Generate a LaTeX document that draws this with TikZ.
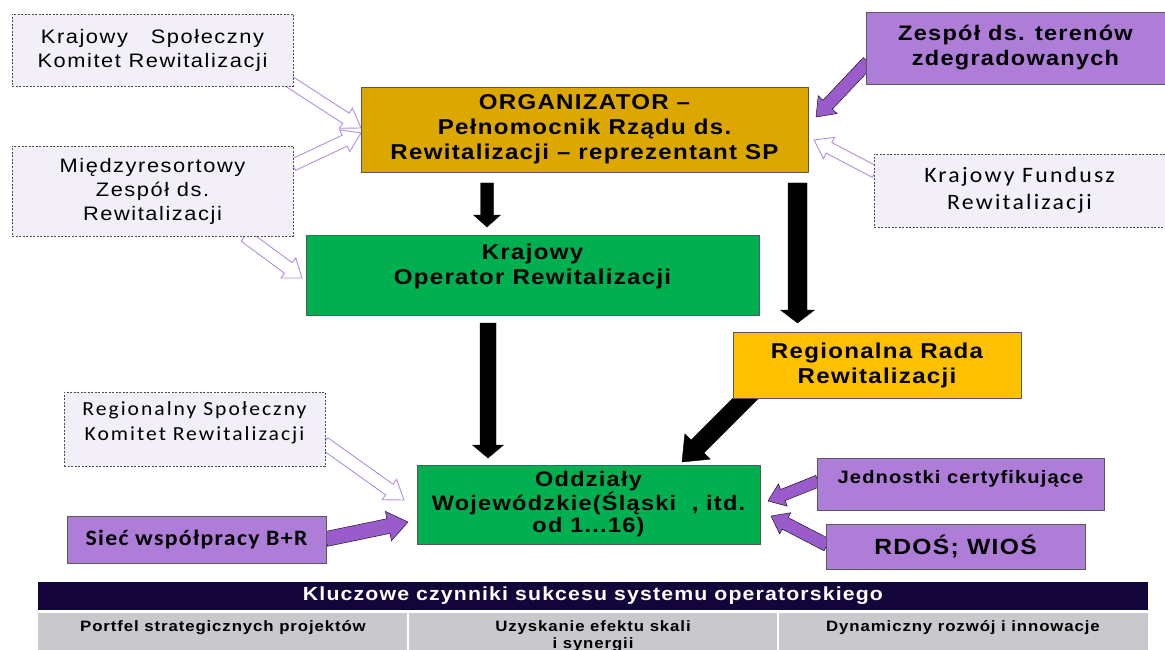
\documentclass[tikz,border=0pt]{standalone}
\usepackage{fontspec}
\setmainfont{Liberation Sans}
\newfontfamily\arl[FakeStretch=1.12,LetterSpace=6]{Liberation Sans}
\newfontfamily\arr[FakeStretch=1.12,LetterSpace=8]{Liberation Sans}
\newfontfamily\cbr[FakeStretch=1.08,LetterSpace=10]{Carlito}
\newfontfamily\cbb[FakeStretch=1.08,LetterSpace=6]{Carlito}
\usetikzlibrary{calc}

\definecolor{orggold}{HTML}{DCA800}
\definecolor{opgreen}{HTML}{00B050}
\definecolor{rryellow}{HTML}{FFC000}
\definecolor{boxpurple}{HTML}{AE7DD8}
\definecolor{arrpurple}{HTML}{9B5CCB}
\definecolor{lilac}{HTML}{B48DE0}
\definecolor{lavender}{HTML}{F3EFF9}
\definecolor{navy}{HTML}{13053A}
\definecolor{cellgray}{HTML}{C9C9CD}

\pgfdeclarelayer{bg}
\pgfsetlayers{bg,main}

\tikzset{
  box/.style={draw=black!65, line width=0.8pt, align=center, inner sep=0pt,
    font=\arl\bfseries\fontsize{21.5}{25}\selectfont},
  dbox/.style={draw=black!70, dash pattern=on 2pt off 1.5pt, line width=0.6pt,
    fill=lavender, align=center, inner sep=0pt, font=\arr\fontsize{19.5}{24}\selectfont},
  cell/.style={anchor=north, align=center, inner sep=0pt,
    font=\arl\bfseries\fontsize{15}{17}\selectfont},
  fat/.style n args={3}{to path={
    ($ (\tikztostart)!#1!90:(\tikztotarget) $)
    -- ($ ($(\tikztotarget)!#3!(\tikztostart)$)!#1!90:(\tikztotarget) $)
    -- ($ ($(\tikztotarget)!#3!(\tikztostart)$)!#2!90:(\tikztotarget) $)
    -- (\tikztotarget)
    -- ($ ($(\tikztotarget)!#3!(\tikztostart)$)!#2!-90:(\tikztotarget) $)
    -- ($ ($(\tikztotarget)!#3!(\tikztostart)$)!#1!-90:(\tikztotarget) $)
    -- ($ (\tikztostart)!#1!-90:(\tikztotarget) $)
    -- cycle}},
  blk/.style={fill=black},
  parr/.style={fill=arrpurple},
  harr/.style={draw=lilac, line width=0.9pt, fill=white}
}

\begin{document}
\begin{tikzpicture}[x=1pt,y=-1pt]
\useasboundingbox (0,0) rectangle (1165,650);

\node[dbox, minimum width=281pt, minimum height=72pt] (kskr) at (152.5,50) {Krajowy\ \ \ Społeczny\\Komitet Rewitalizacji};
\node[dbox, minimum width=281pt, minimum height=90pt] (mzr) at (152.5,191) {Międzyresortowy\\Zespół ds.\\Rewitalizacji};
\node[box, fill=orggold, minimum width=447pt, minimum height=85pt] (org) at (584.5,129.5) {ORGANIZATOR –\\Pełnomocnik Rządu ds.\\Rewitalizacji – reprezentant SP};
\node[box, fill=boxpurple, minimum width=299pt, minimum height=72pt, font=\arl\bfseries\fontsize{21}{25}\selectfont] (zespol) at (1015.5,48) {Zespół ds. terenów\\zdegradowanych};
\node[dbox, minimum width=291pt, minimum height=73pt, font=\cbr\fontsize{22}{27}\selectfont] (kfr) at (1019.5,190.5) {Krajowy Fundusz\\Rewitalizacji};

\node[box, fill=opgreen, minimum width=453pt, minimum height=80pt, text depth=22pt] (kor) at (532.5,275) {Krajowy\\Operator Rewitalizacji};
\node[box, fill=rryellow, minimum width=288pt, minimum height=66pt] (rrr) at (877,365) {Regionalna Rada\\Rewitalizacji};
\node[dbox, minimum width=261pt, minimum height=74pt, text depth=16pt, font=\cbr\fontsize{20}{25}\selectfont] (rskr) at (194.5,429) {Regionalny Społeczny\\Komitet Rewitalizacji};

\node[box, fill=opgreen, minimum width=343pt, minimum height=79pt, font=\arl\bfseries\fontsize{21}{22}\selectfont] (odd) at (588.5,504.5) {Oddziały\\Wojewódzkie(Śląski\ \ , itd.\\od 1...16)};
\node[box, fill=boxpurple, minimum width=259pt, minimum height=47pt, font=\cbb\bfseries\fontsize{22}{26}\selectfont] (siec) at (196.5,539.5) {Sieć współpracy\ B+R};
\node[box, fill=boxpurple, minimum width=287pt, minimum height=52pt, text depth=15pt, font=\arl\bfseries\fontsize{18}{20}\selectfont] (jed) at (960.5,484) {Jednostki certyfikujące};
\node[box, fill=boxpurple, minimum width=259pt, minimum height=45pt, font=\arl\bfseries\fontsize{22}{25}\selectfont] (rdos) at (955.5,546.5) {RDOŚ; WIOŚ};

\node[fill=navy, text=white, minimum width=1110pt, minimum height=28pt, inner sep=0pt, font=\arl\bfseries\fontsize{19}{20}\selectfont] (hdr) at (593,596) {Kluczowe czynniki sukcesu systemu operatorskiego};
\fill[cellgray] (38,613) rectangle (1148,650);
\draw[white, line width=2pt] (408,611) -- (408,650) (778,611) -- (778,650);
\node[cell] (c1) at (223,620) {Portfel strategicznych projektów};
\node[cell] (c2) at (593,620) {Uzyskanie efektu skali\\i synergii};
\node[cell] (c3) at (963,620) {Dynamiczny rozwój i innowacje};

\begin{pgfonlayer}{bg}
\coordinate (org-kor1) at (487,183);
\coordinate (org-kor2) at (487,227);
\coordinate (kor-odd1) at (488,323);
\coordinate (kor-odd2) at (488,458);
\coordinate (org-rrr1) at (797.5,183);
\coordinate (org-rrr2) at (797.5,323);
\coordinate (rrr-odd1) at (752,392);
\coordinate (rrr-odd2) at (682,462);
\draw[blk] (org-kor1) to[fat={6.5pt}{13.5pt}{12pt}] (org-kor2);
\draw[blk] (kor-odd1) to[fat={8pt}{15.5pt}{13pt}] (kor-odd2);
\draw[blk] (org-rrr1) to[fat={9.5pt}{17pt}{13pt}] (org-rrr2);
\draw[blk] (rrr-odd1) to[fat={9pt}{18pt}{22pt}] (rrr-odd2);

\coordinate (zes-org1) at (868,62);
\coordinate (zes-org2) at (816,117);
\coordinate (sie-odd1) at (326,539);
\coordinate (sie-odd2) at (408,522);
\coordinate (jed-odd1) at (818,481);
\coordinate (jed-odd2) at (768,501);
\coordinate (rdo-odd1) at (827,545);
\coordinate (rdo-odd2) at (771,516);
\draw[parr] (zes-org1) to[fat={6.5pt}{13pt}{17pt}] (zes-org2);
\draw[parr] (sie-odd1) to[fat={7.5pt}{15pt}{20pt}] (sie-odd2);
\draw[parr] (jed-odd1) to[fat={6pt}{12pt}{16pt}] (jed-odd2);
\draw[parr] (rdo-odd1) to[fat={6.5pt}{12pt}{16pt}] (rdo-odd2);

\coordinate (ksk-org1) at (290,82);
\coordinate (ksk-org2) at (361,128);
\coordinate (mzr-org1) at (293,165);
\coordinate (mzr-org2) at (361,133);
\coordinate (mzr-kor1) at (245,236);
\coordinate (mzr-kor2) at (302,278);
\coordinate (kfr-org1) at (875,172);
\coordinate (kfr-org2) at (814,140);
\coordinate (rsk-odd1) at (324,443);
\coordinate (rsk-odd2) at (404,500);
\draw[harr] (ksk-org1) to[fat={6pt}{12pt}{18pt}] (ksk-org2);
\draw[harr] (mzr-org1) to[fat={6pt}{12pt}{18pt}] (mzr-org2);
\draw[harr] (mzr-kor1) to[fat={6.5pt}{12.5pt}{17pt}] (mzr-kor2);
\draw[harr] (kfr-org1) to[fat={6pt}{12pt}{17pt}] (kfr-org2);
\draw[harr] (rsk-odd1) to[fat={6.5pt}{12.5pt}{18pt}] (rsk-odd2);
\end{pgfonlayer}

\end{tikzpicture}
\end{document}
